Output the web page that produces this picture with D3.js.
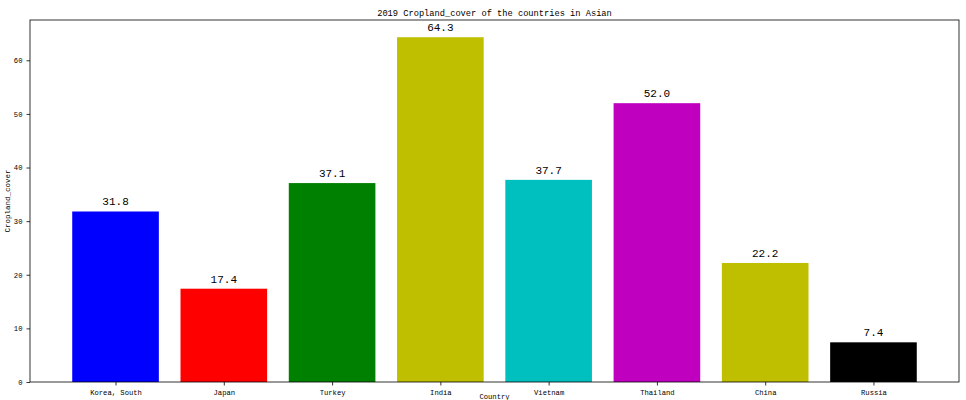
<!DOCTYPE html>
<html><head><meta charset="utf-8">
<script src="https://cdn.jsdelivr.net/npm/d3@7"></script>
<style>body{margin:0;background:#fff;} svg{display:block;} text{font-family:"Liberation Mono","DejaVu Sans Mono",monospace;fill:#000;}</style>
</head><body>
<script>
const countries = ["Korea, South","Japan","Turkey","India","Vietnam","Thailand","China","Russia"];
const values = [31.8,17.4,37.1,64.3,37.7,52.0,22.2,7.4];
const colors = ["#0000ff","#ff0000","#008000","#bfbf00","#00bfbf","#bf00bf","#bfbf00","#000000"];
const yTicks = [0,10,20,30,40,50,60];
const title = "2019 Cropland_cover of the countries in Asian";
const xLabel = "Country";
const yLabel = "Cropland_cover";

const W=966,H=400, L=30,R=959,T=20,B=382;
const svg=d3.select("body").append("svg").attr("width",W).attr("height",H);
const x=d3.scaleLinear().domain([-0.79,7.79]).range([L,R]);
const y=d3.scaleLinear().domain([0,67.515]).range([B,T]);
const bw=x(0.8)-x(0);

svg.selectAll("rect.bar").data(values).enter().append("rect").attr("class","bar")
 .attr("x",(d,i)=>x(i-0.4)).attr("width",bw)
 .attr("y",d=>y(d)).attr("height",d=>y(0)-y(d))
 .attr("fill",(d,i)=>colors[i]);

svg.selectAll("text.val").data(values).enter().append("text").attr("class","val")
 .attr("x",(d,i)=>x(i)).attr("y",d=>y(d)-6)
 .attr("text-anchor","middle").style("font-size","11px")
 .text(d=>d.toFixed(1));

const gx=svg.append("g").attr("transform",`translate(0,${B})`)
 .call(d3.axisBottom(x).tickValues(d3.range(countries.length)).tickFormat(i=>countries[i]).tickSize(3.5).tickSizeOuter(0));
const gy=svg.append("g").attr("transform",`translate(${L},0)`)
 .call(d3.axisLeft(y).tickValues(yTicks).tickSize(3.5).tickSizeOuter(0));
[gx,gy].forEach(g=>{g.select(".domain").remove();g.selectAll("line").attr("stroke","#000").attr("stroke-width",0.8);
 g.selectAll("text").style("font-size","7.2px").attr("fill","#000");});
gx.selectAll("text").attr("dy","0.95em");
gy.selectAll("text").attr("dx","-1");

svg.append("rect").attr("x",L).attr("y",T).attr("width",R-L).attr("height",B-T)
 .attr("fill","none").attr("stroke","#000").attr("stroke-width",0.8);

svg.append("text").attr("x",(L+R)/2).attr("y",T-4).attr("text-anchor","middle").style("font-size","8.7px").text(title);
svg.append("text").attr("x",(L+R)/2).attr("y",B+17).attr("text-anchor","middle").style("font-size","7.2px").text(xLabel);
svg.append("text").attr("transform",`translate(10,${(T+B)/2}) rotate(-90)`).attr("text-anchor","middle").style("font-size","7.5px").text(yLabel);
</script>
</body></html>
